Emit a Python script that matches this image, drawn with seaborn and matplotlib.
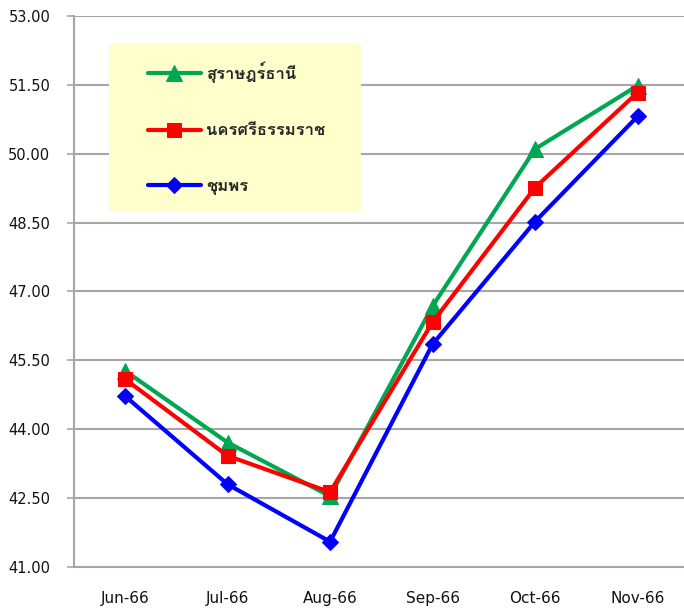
import numpy as np
import pandas as pd
import matplotlib
matplotlib.use("Agg")
import matplotlib.pyplot as plt
import seaborn as sns
from matplotlib import font_manager, ft2font
from matplotlib.patches import Rectangle

# DATA

months = ["Jun-66", "Jul-66", "Aug-66", "Sep-66", "Oct-66", "Nov-66"]

surat = [45.27, 43.71, 42.54, 46.68, 50.10, 51.48]
nakhon = [45.09, 43.42, 42.63, 46.33, 49.26, 51.33]
chumphon = [44.72, 42.80, 41.55, 45.85, 48.52, 50.81]

names = ["สุราษฎร์ธานี", "นครศรีธรรมราช", "ชุมพร"]
yticks = [41.0, 42.5, 44.0, 45.5, 47.0, 48.5, 50.0, 51.5, 53.0]

# find a font with thai glyphs

thai_font = None
for f in font_manager.fontManager.ttflist:
    try:
        if 0x0E2A in ft2font.FT2Font(f.fname).get_charmap():
            thai_font = f.name
            break
    except Exception:
        pass

sns.set_style("white")
plt.rcParams["font.family"] = ["DejaVu Sans"]

fig = plt.figure(figsize=(6.84, 6.09), dpi=100)
ax = fig.add_axes([0.108, 0.069, 0.899, 0.905])

styles = [
    (surat, "#00A651", "^", 11),
    (nakhon, "#FF0000", "s", 10.5),
    (chumphon, "#0000FF", "D", 8.5),
]

for (vals, color, marker, ms), name in zip(styles, names):
    sns.lineplot(
        x=months,
        y=vals,
        ax=ax,
        color=color,
        marker=marker,
        markersize=ms,
        markeredgecolor=color,
        linewidth=3,
        label=name,
        zorder=3
    )

ax.set_xlim(-0.5, 5.5)
ax.set_ylim(41, 53)
ax.set_yticks(yticks)
ax.set_yticklabels([f"{v:.2f}" for v in yticks], fontsize=10.5, color="#111111")

ax.grid(axis="y", color="#A6A6A6", linewidth=1.5)
ax.set_axisbelow(True)

ax.set_xticks(range(len(months)))
ax.set_xticklabels(months, fontsize=11, color="#111111")
ax.set_xticks(np.arange(-0.5, 6, 1), minor=True)
ax.tick_params(axis="x", which="major", length=0, pad=17)
ax.tick_params(axis="x", which="minor", length=5, width=1.2, color="#A6A6A6", direction="out")
ax.tick_params(axis="y", length=5, width=1.2, color="#A6A6A6", direction="out", pad=12, left=True)

for s in ["top", "right"]:
    ax.spines[s].set_visible(False)
for s in ["left", "bottom"]:
    ax.spines[s].set_color("#A6A6A6")
    ax.spines[s].set_linewidth(1.5)

# LEGEND BOX

ax.add_patch(Rectangle(
    (0.057, 0.646), 0.41, 0.305,
    transform=ax.transAxes,
    facecolor="#FFFFCC",
    edgecolor="none",
    zorder=1.5
))

handles, labels = ax.get_legend_handles_labels()
leg_font = {"size": 12, "weight": "bold"}
if thai_font:
    leg_font["family"] = thai_font

ax.legend(
    handles, labels,
    loc="upper left",
    bbox_to_anchor=(0.120, 0.918),
    frameon=False,
    prop=leg_font,
    handlelength=3.2,
    handletextpad=0.3,
    labelspacing=2.45,
    borderaxespad=0,
    borderpad=0
)

fig.savefig("out.png", dpi=100)
